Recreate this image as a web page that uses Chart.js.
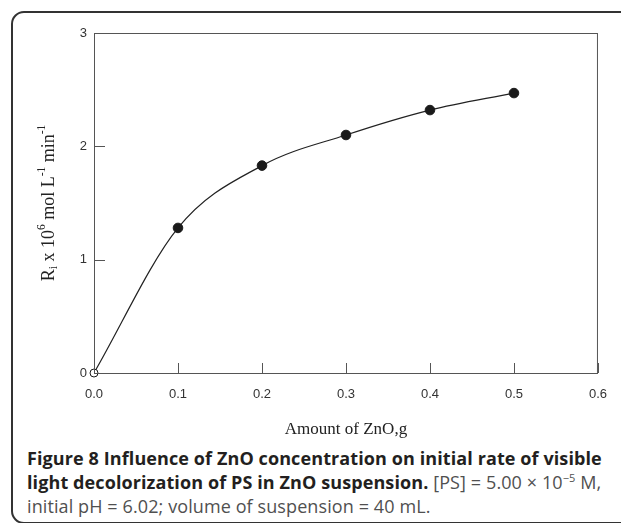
<!DOCTYPE html>
<html>
<head>
<meta charset="utf-8">
<script src="https://cdn.jsdelivr.net/npm/chart.js@4/dist/chart.umd.min.js"></script>
<style>
  html, body { margin: 0; padding: 0; background: #fff; }
  body { width: 621px; height: 523px; position: relative; overflow: hidden; }
  .frame {
    position: absolute; left: 11px; top: 11px; width: 700px; height: 509px;
    border: 2px solid #333; border-radius: 13px;
  }
  #chartWrap { position: absolute; left: 0; top: 0; width: 621px; height: 445px; }
  .cap {
    position: absolute; left: 27px; white-space: nowrap;
    font-family: "Open Sans", sans-serif; font-size: 18px; line-height: 20px;
    color: #505050; letter-spacing: 0.1px;
  }
  .cap b { color: #231f20; font-weight: 700; }
  .cap sup { font-size: 11px; line-height: 0; vertical-align: 7px; }
</style>
</head>
<body>
<div class="frame"></div>
<div id="chartWrap"><canvas id="chart" width="621" height="445"></canvas></div>
<div class="cap" style="top:448px"><b>Figure 8 Influence of ZnO concentration on initial rate of visible</b></div>
<div class="cap" style="top:472px"><b>light decolorization of PS in ZnO suspension.</b> [PS] = 5.00 × 10<sup>−5</sup> M,</div>
<div class="cap" style="top:496px">initial pH = 6.02; volume of suspension = 40 mL.</div>
<script>
  const znoAmounts = [0, 0.1, 0.2, 0.3, 0.4, 0.5];
  const initialRates = [0, 1.28, 1.83, 2.10, 2.32, 2.47];
  const xTickValues = [0, 0.1, 0.2, 0.3, 0.4, 0.5, 0.6];
  const yTickValues = [0, 1, 2, 3];

  const xTitle = "Amount of ZnO,g";
  // y title pieces: [text, kind]
  const yTitleParts = [
    ["R", "n"], ["i", "sub"], [" x 10", "n"], ["6", "sup"],
    [" mol L", "n"], ["-1", "sup"], [" min", "n"], ["-1", "sup"]
  ];

  const points = znoAmounts.map((x, i) => ({ x, y: initialRates[i] }));

  // frame, inward tick marks and the y title
  const framePlugin = {
    id: "frame",
    afterDraw(chart) {
      const { ctx, chartArea: a, scales } = chart;
      ctx.save();
      ctx.strokeStyle = "#555";
      ctx.lineWidth = 1;
      ctx.strokeRect(a.left + 0.5, a.top + 0.5, a.right - a.left - 1, a.bottom - a.top);
      ctx.beginPath();
      xTickValues.forEach((v) => {
        const px = Math.round(scales.x.getPixelForValue(v)) + 0.5;
        ctx.moveTo(px, a.bottom);
        ctx.lineTo(px, a.bottom - 10);
      });
      yTickValues.forEach((v) => {
        const py = Math.round(scales.y.getPixelForValue(v)) + 0.5;
        ctx.moveTo(a.left, py);
        ctx.lineTo(a.left + 11, py);
      });
      ctx.stroke();

      // y axis title
      const big = '18px "Liberation Serif", serif';
      const small = '11.5px "Liberation Serif", serif';
      let total = 0;
      yTitleParts.forEach(([t, k]) => {
        ctx.font = k === "n" ? big : small;
        total += ctx.measureText(t).width;
      });
      ctx.translate(49, (a.top + a.bottom) / 2);
      ctx.rotate(-Math.PI / 2);
      ctx.fillStyle = "#222";
      ctx.textBaseline = "middle";
      let x = -total / 2;
      yTitleParts.forEach(([t, k]) => {
        ctx.font = k === "n" ? big : small;
        const dy = k === "sup" ? -7 : k === "sub" ? 5 : 0;
        ctx.fillText(t, x, dy);
        x += ctx.measureText(t).width;
      });
      ctx.restore();
    }
  };

  new Chart(document.getElementById("chart").getContext("2d"), {
    type: "line",
    data: {
      datasets: [{
        data: points,
        borderColor: "#222",
        borderWidth: 1.2,
        cubicInterpolationMode: "monotone",
        pointRadius: initialRates.map((v, i) => (i === 0 ? 4 : 4.8)),
        pointBackgroundColor: initialRates.map((v, i) => (i === 0 ? "#fff" : "#1a1a1a")),
        pointBorderColor: "#1a1a1a",
        pointBorderWidth: 1,
        clip: false
      }]
    },
    options: {
      responsive: false,
      animation: false,
      layout: { padding: { top: 33, right: 20, left: 0, bottom: 0 } },
      plugins: { legend: { display: false }, tooltip: { enabled: false } },
      scales: {
        x: {
          type: "linear",
          min: 0,
          max: 0.6,
          afterFit: (s) => { s.height = 72; },
          afterBuildTicks: (s) => { s.ticks = xTickValues.map((v) => ({ value: v })); },
          grid: { display: false, drawTicks: false },
          border: { display: true, color: "#555", width: 1 },
          ticks: {
            padding: 14,
            color: "#333",
            font: { family: "Liberation Sans", size: 13 },
            callback: (v) => Number(v).toFixed(1)
          },
          title: {
            display: true,
            text: xTitle,
            color: "#222",
            font: { family: "Liberation Serif", size: 17 },
            padding: { top: 0, bottom: 5 }
          }
        },
        y: {
          min: 0,
          max: 3,
          afterFit: (s) => { s.width = 94; },
          afterBuildTicks: (s) => { s.ticks = yTickValues.map((v) => ({ value: v })); },
          grid: { display: false, drawTicks: false },
          border: { display: true, color: "#555", width: 1 },
          ticks: {
            padding: 7,
            color: "#333",
            font: { family: "Liberation Sans", size: 13 }
          }
        }
      }
    },
    plugins: [framePlugin]
  });
</script>
</body>
</html>
